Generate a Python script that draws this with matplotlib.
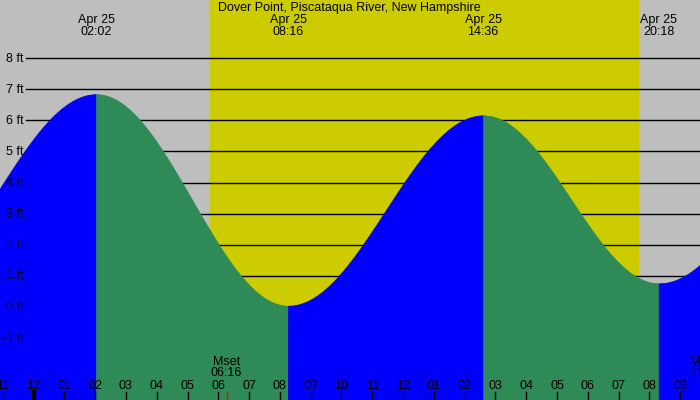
import matplotlib
matplotlib.use("Agg")
import matplotlib.pyplot as plt
import numpy as np

# tide extremes, hours from midnight Apr 25 (first and last are off-chart estimates)
tide_hours = [-4.4, 2.033, 8.267, 14.6, 20.3, 26.7]
tide_feet = [0.5, 6.84, 0.04, 6.16, 0.76, 6.5]
top_labels = ["02:02", "08:16", "14:36", "20:18"]
sunrise = 5.73
sunset = 19.62
moonset = 6.267
moonrise = 21.8
title = "Dover Point, Piscataqua River, New Hampshire"

gray = "#bebebe"
yellow = "#cccc00"
rise_col = "#0000ff"
fall_col = "#2e8b57"

plt.rcParams["font.family"] = ["Liberation Sans", "DejaVu Sans"]
x0, x1 = -1.088, 21.64
y0, y1 = -2.99, 9.87
fs = 9

fig = plt.figure(figsize=(7, 4), dpi=100)
ax = fig.add_axes([0, 0, 1, 1])
ax.set_xlim(x0, x1)
ax.set_ylim(y0, y1)
ax.axis("off")
fig.patch.set_facecolor(gray)

px = (x1 - x0) / 700.0
py = (y1 - y0) / 400.0

ax.axvspan(sunrise, sunset, color=yellow, zorder=0)

# grid lines and labels
for ft in range(-1, 9):
    ax.plot([x0 + 26 * px, x1], [ft, ft], color="black", lw=1, zorder=1)
    ax.text(x0 + 24 * px, ft - 0.5 * py, "%d ft" % ft, ha="right", va="center", fontsize=fs, zorder=5)

# tide curve, cosine between high and low
for i in range(len(tide_hours) - 1):
    ta, tb = tide_hours[i], tide_hours[i + 1]
    ha, hb = tide_feet[i], tide_feet[i + 1]
    t = np.linspace(ta, tb, 200)
    h = ha + (hb - ha) * (1 - np.cos(np.pi * (t - ta) / (tb - ta))) / 2
    col = rise_col if hb > ha else fall_col
    ax.fill_between(t, y0, h, facecolor=col, edgecolor=col, lw=0.6, zorder=2)

# top labels
for t, lab in zip(tide_hours[1:5], top_labels):
    ax.text(t, y1 - 26 * py, "Apr 25\n" + lab, ha="center", va="center",
            fontsize=fs, linespacing=0.95, zorder=5)
ax.text(10.25, y1 - 8 * py, title, ha="center", va="center", fontsize=fs, zorder=5)

# hour ticks
for hr in range(-1, 23):
    lab = "%02d" % ((hr - 1) % 12 + 1)
    lw = 3 if hr == 0 else 1
    ax.plot([hr, hr], [y0, y0 + 8 * py], color="black", lw=lw, zorder=4)
    ax.text(hr, y0 + 14 * py, lab, ha="center", va="center", fontsize=fs, zorder=5)

ax.plot([moonset, moonset], [y0, y0 + 8 * py], color="red", lw=1, zorder=4)
ax.text(moonset, y0 + 32.5 * py, "Mset\n06:16", ha="center", va="center",
        fontsize=fs, linespacing=0.95, zorder=5)
ax.text(moonrise, y0 + 32.5 * py, "Mrise\n21:48", ha="center", va="center",
        fontsize=fs, linespacing=0.95, zorder=5)

fig.savefig("out.png", dpi=100, facecolor=gray)
